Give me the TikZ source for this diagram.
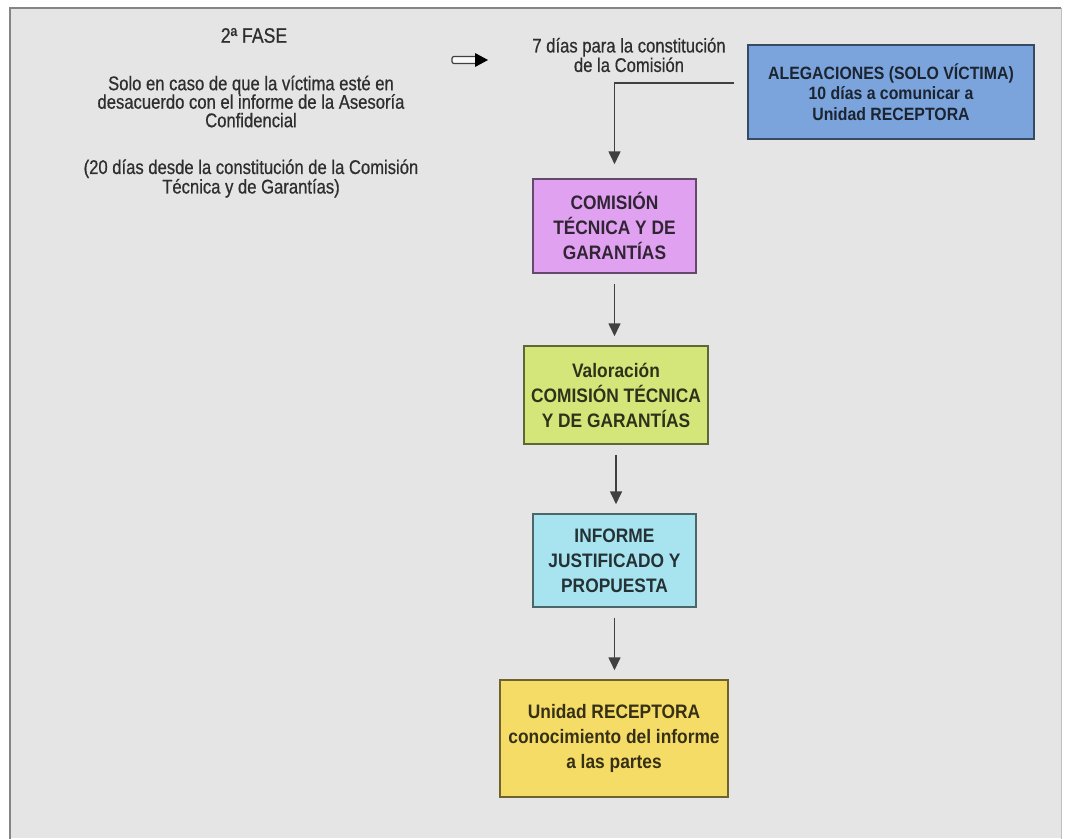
\documentclass[tikz,border=0pt]{standalone}
\usepackage{fontspec}
\setmainfont{Liberation Sans}[FakeStretch=0.84, FakeBold=0.6]
\newfontfamily\cajafont{Liberation Sans}[FakeStretch=0.89]
\usetikzlibrary{arrows.meta}
\definecolor{fondo}{HTML}{E5E5E5}
\definecolor{marco}{HTML}{858585}
\definecolor{azul}{HTML}{7BA4DC}
\definecolor{lila}{HTML}{E0A2F0}
\definecolor{verde}{HTML}{D4E67A}
\definecolor{celeste}{HTML}{A8E4F0}
\definecolor{amarillo}{HTML}{F5DC66}
\newcommand\textoizq[1]{\fontsize{19.8}{#1}\selectfont\lineskiplimit=-30pt}
\newcommand\textocaja[2]{\cajafont\bfseries\fontsize{#1}{#2}\selectfont\lineskiplimit=-30pt}

\begin{document}
\begin{tikzpicture}[x=1pt, y=-1pt,
    caja/.style={draw=#1!45!black, line width=1.5pt, fill=#1, text=#1!22!black,
        align=center, inner sep=0pt, font=\textocaja{19.5}{25}},
    texto/.style={align=center, inner sep=0pt, text=black!82, font=\textoizq{18.5}},
    flecha/.style={draw=black!75, line width=1.6pt, -{Triangle[width=12pt,length=13pt]},
        shorten <=10pt, shorten >=9pt}]
    \fill[white] (0,0) rectangle (1065,838);
    \useasboundingbox (0,0) rectangle (1065,838);
    \fill[fondo] (10,8) rectangle (1061,838);
    \draw[marco, line width=2.5pt] (10,840) -- (10,8) -- (1061,8);
    \draw[black!25, line width=1pt] (1061,8) -- (1061,840);

    \node[texto, font=\fontsize{21}{21}\selectfont] (fase) at (254,35.5) {2ª FASE};
    \node[texto] (condicion) at (251,101.5) {Solo en caso de que la víctima esté en\\desacuerdo con el informe de la Asesoría\\Confidencial};
    \node[texto, font=\textoizq{19.5}] (plazo) at (251,178.5) {(20 días desde la constitución de la Comisión\\Técnica y de Garantías)};
    \node[texto, font=\textoizq{19.5}] (constitucion) at (629,55) {7 días para la constitución\\de la Comisión};

    \draw[black!75, fill=white!75!fondo, line width=1.2pt, rounded corners=2pt] (452,56.5) rectangle (477,63.5);
    \fill[black] (475,53) -- (488,60) -- (475,67) -- cycle;

    \node[caja=azul, minimum width=286pt, minimum height=94pt, font=\textocaja{17.8}{20.5}] (alegaciones) at (891,92)
        {ALEGACIONES (SOLO VÍCTIMA)\\10 días a comunicar a\\Unidad RECEPTORA};
    \node[caja=lila, minimum width=163pt, minimum height=94pt] (comision) at (614.5,226)
        {COMISIÓN\\TÉCNICA Y DE\\GARANTÍAS};
    \node[caja=verde, minimum width=184pt, minimum height=98pt] (valoracion) at (616,395)
        {Valoración\\COMISIÓN TÉCNICA\\Y DE GARANTÍAS};
    \node[caja=celeste, minimum width=163pt, minimum height=93pt] (informe) at (614.5,560.5)
        {INFORME\\JUSTIFICADO Y\\PROPUESTA};
    \node[caja=amarillo, minimum width=228pt, minimum height=117pt] (unidad) at (614,738.5)
        {Unidad RECEPTORA\\conocimiento del informe\\a las partes};

    \draw[flecha, shorten <=13pt, shorten >=14pt] ([yshift=9pt]alegaciones.west) -| (comision.north);
    \foreach \a/\b in {comision/valoracion, valoracion/informe, informe/unidad}
        \draw[flecha] (\a.south) -- (\a.south |- \b.north);
\end{tikzpicture}
\end{document}
